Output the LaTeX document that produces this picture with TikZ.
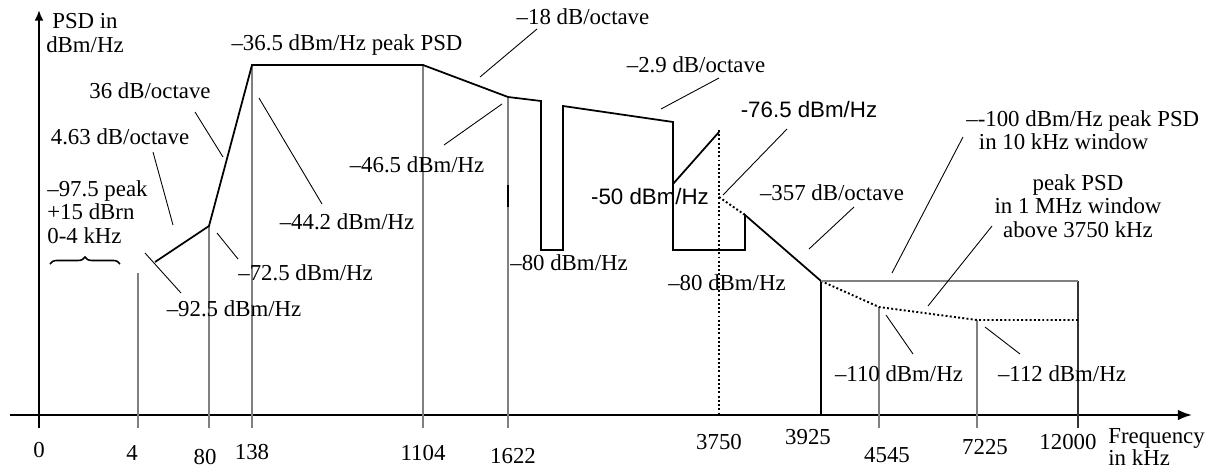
\documentclass[tikz,border=0pt]{standalone}
\usepackage{fontspec}
\setmainfont{Liberation Serif}
\newfontfamily\arialfont{Liberation Sans}
\usetikzlibrary{arrows.meta,decorations.pathreplacing}

\tikzset{
  axe/.style={line width=1.1pt, -{Latex[length=8pt,width=6pt]}},
  courbe/.style={line width=1pt, line join=miter},
  trait/.style={line width=0.5pt},
  repere/.style={gray, line width=0.7pt},
  pointille/.style={line width=1.1pt, dash pattern=on 1.1pt off 1.3pt},
  txt/.style={inner sep=0pt, font=\fontsize{13}{13.3}\selectfont},
  sans/.style={inner sep=0pt, font=\fontsize{12.7}{13.3}\selectfont\arialfont},
}

\begin{document}
\begin{tikzpicture}[x=0.02cm, y=-0.02cm]
\useasboundingbox (0,0) rectangle (1214,470);

% Axes
\draw[axe] (10,415) -- (1192,415);
\draw[axe, -{Latex[length=6pt,width=5pt]}] (39,428) -- (39,10);

% Reperes verticaux
\draw[repere] (138,273) -- (138,428);
\draw[repere] (209,225) -- (209,428);
\draw[repere] (252,65) -- (252,428);
\draw[repere] (423,65) -- (423,428);
\draw[repere] (508,97) -- (508,428);
\draw[line width=1pt] (508,185) -- (508,207);
\draw[line width=0.8pt] (821,281) -- (821,415);
\draw[repere] (879,307) -- (879,428);
\draw[repere] (977,320) -- (977,428);
\draw[line width=0.6pt, black!80] (1078,281) -- (1078,428);
\draw[pointille] (719,130) -- (719,415);

% Gabarit PSD
\draw[courbe] (155,262) -- (209,226) -- (252,65) -- (423,65) -- (508,97) -- (541,101)
  -- (541,250) -- (563,250) -- (563,106) -- (673,122) -- (673,250) -- (745,250)
  -- (745,215) -- (821,281);
\draw[courbe] (673,184) -- (719,132);
\draw[pointille] (719,197) -- (745,215);
\draw[pointille] (821,281) -- (879,307) -- (977,320) -- (1078,320);
\draw[repere, line width=0.75pt] (821,281) -- (1078,281);

% Accolade
\draw[line width=0.9pt, decorate, decoration={brace, amplitude=4pt}] (50,264) -- (120,264);

% Petites lignes
\draw[trait] (195,112) -- (223,157);
\draw[trait] (153,152) -- (173,225);
\draw[trait] (145,253) -- (181,293);
\draw[trait] (217,233) -- (238,259);
\draw[trait] (259,98) -- (322,204);
\draw[trait] (444,145) -- (502,104);
\draw[trait] (480,77) -- (537,29);
\draw[trait] (661,109) -- (719,78);
\draw[trait] (723,195) -- (787,129);
\draw[trait] (809,249) -- (854,207);
\draw[trait] (892,273) -- (963,137);
\draw[trait] (928,306) -- (992,226);
\draw[trait] (886,315) -- (913,354);
\draw[trait] (985,327) -- (1020,354);

% Labels
\node[txt, align=center] (ylab) at (85,33) {PSD in\\dBm/Hz};
\node[txt] (crete) at (347,45) {--36.5 dBm/Hz peak PSD};
\node[txt] (pente36) at (150,91) {36 dB/octave};
\node[txt] (pente463) at (120,137) {4.63 dB/octave};
\node[txt, align=left, anchor=west] (voix) at (47,212) {--97.5 peak\\+15 dBrn\\0-4 kHz};
\node[txt] (n925) at (234,309) {--92.5 dBm/Hz};
\node[txt, anchor=west] (n725) at (238,273) {--72.5 dBm/Hz};
\node[txt] (n442) at (347,222) {--44.2 dBm/Hz};
\node[txt] (n465) at (417,165) {--46.5 dBm/Hz};
\node[txt] (pente18) at (583,17) {--18 dB/octave};
\node[txt] (pente29) at (696,65) {--2.9 dB/octave};
\node[sans] (n765) at (809,110) {-76.5 dBm/Hz};
\node[sans] (n50) at (650,197) {-50 dBm/Hz};
\node[txt] (pente357) at (832,193) {--357 dB/octave};
\node[txt, anchor=west] (n80a) at (510,263) {--80 dBm/Hz};
\node[txt] (n80b) at (727,283) {--80 dBm/Hz};
\node[txt, align=left, anchor=west] (n100) at (966,130) {--{}-100 dBm/Hz peak PSD\\\hspace{0.55em}in 10 kHz window};
\node[txt, align=center] (fenetre) at (1078,206) {peak PSD\\in 1 MHz window\\above 3750 kHz};
\node[txt] (n110) at (899,374) {--110 dBm/Hz};
\node[txt] (n112) at (1062,374) {--112 dBm/Hz};

% Frequences
\node[txt] (f0) at (39,450) {0};
\node[txt] (f4) at (132,453) {4};
\node[txt] (f80) at (205,457) {80};
\node[txt] (f138) at (252,452) {138};
\node[txt] (f1104) at (423,453) {1104};
\node[txt] (f1622) at (513,456) {1622};
\node[txt] (f3750) at (719,442) {3750};
\node[txt] (f3925) at (808,437) {3925};
\node[txt] (f4545) at (887,455) {4545};
\node[txt] (f7225) at (985,447) {7225};
\node[txt] (f12000) at (1068,442) {12000};
\node[txt, align=left, anchor=west, font=\fontsize{13}{12.3}\selectfont] (xlab) at (1108,447) {Frequency\\in kHz};

\end{tikzpicture}
\end{document}
